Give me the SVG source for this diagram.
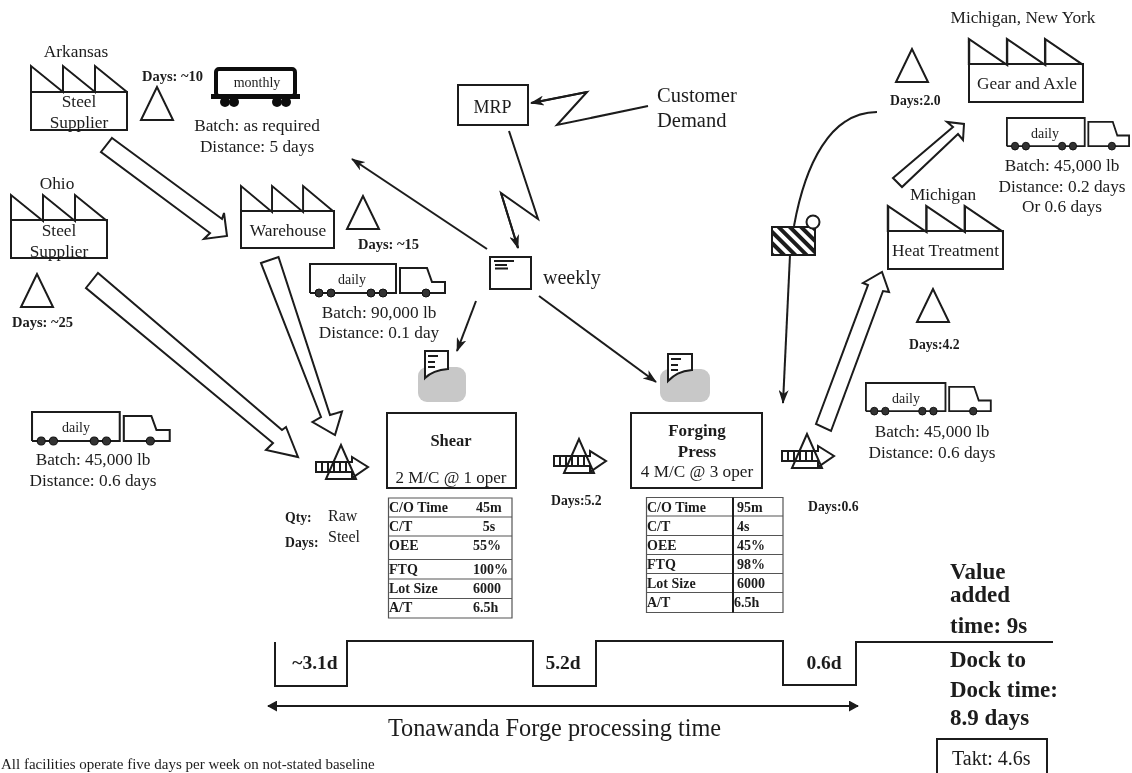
<svg xmlns="http://www.w3.org/2000/svg" width="1132" height="773" viewBox="0 0 1132 773">
<style>
text{font-family:"Liberation Serif","Times New Roman",serif;fill:#1c1c1c}
.t{font-size:17.300px}.m{text-anchor:middle}.b{font-weight:bold}
.d1{font-size:14.500px;font-weight:bold}.d2{font-size:13.700px;font-weight:bold}
.c{font-size:14px;font-weight:bold}
.v{font-size:23px;font-weight:bold}
.s{fill:none;stroke:#1a1a1a;stroke-width:2}
.w{fill:#fff;stroke:#1a1a1a;stroke-width:2}
.big{fill:#fff;stroke:#1a1a1a;stroke-width:2;stroke-linejoin:miter}
.a{fill:none;stroke:#1a1a1a;stroke-width:2;marker-end:url(#ah)}
.g{fill:none;stroke:#555;stroke-width:1.2}
</style>
<defs>
<filter id="soft" x="0" y="0" width="100%" height="100%"><feGaussianBlur stdDeviation="0.35"/></filter>
<marker id="ah" viewBox="0 0 14 10" refX="13" refY="5" markerWidth="14" markerHeight="10" markerUnits="userSpaceOnUse" orient="auto"><path d="M0,0L14,5L0,10L4,5Z" fill="#1a1a1a"/></marker>
<marker id="ahs" viewBox="0 0 12 12" refX="10" refY="6" markerWidth="11" markerHeight="11" markerUnits="userSpaceOnUse" orient="auto-start-reverse"><path d="M0,0L11,6L0,12Z" fill="#1a1a1a"/></marker>
<pattern id="hatch" width="8" height="8" patternUnits="userSpaceOnUse" patternTransform="rotate(45)"><rect width="8" height="8" fill="#fff"/><rect width="8" height="4" fill="#1a1a1a"/></pattern>
<g id="inv">
<path class="s" d="M0,-5H36V-10L52,0L36,11V5H0Z"/>
<path class="s" d="M6,-5V5M12,-5V5M18,-5V5M24,-5V5M30,-5V5"/>
<path class="s" d="M25,-22L10,12H40Z"/>
</g>
<g id="truck">
<path class="s" d="M1,29V0H87V29H1"/>
<path class="s" d="M91,4H118L123,18H136V29H91Z"/>
<g fill="#333" stroke="#111"><circle cx="10" cy="29" r="4"/><circle cx="22" cy="29" r="4"/><circle cx="62" cy="29" r="4"/><circle cx="74" cy="29" r="4"/><circle cx="117" cy="29" r="4"/></g>
</g>
<path id="tri" class="s" d="M16,0L0,33H32Z"/>
<path id="roof" class="s" d="M0,26V0L32,26V0L64,26V0L96,26"/>
</defs>
<rect width="1132" height="773" fill="#fff"/>
<g filter="url(#soft)">

<g id="connectors">
<path class="big" d="M112,138L222,219L224,213L227,236L204,239L210,233L101,152Z"/>
<path class="big" d="M98,273L282,430L286,427L298,457L266,450L273,443L86,288Z"/>
<path class="big" d="M261,263L278.500,257L330,415L342,411.500L335,435L312.500,422L321,417Z"/>
<path class="big" d="M893,178L953,127L947,122L964,124L963,140L958,134L902,187Z"/>
<path class="big" d="M816,424L868,285L863,283L882,272L889,292L883,291L831,431Z"/>
<path class="s" d="M648,106L557,125L587,92L532,103"/>
<path class="a" d="M587,92L531,103"/>
<path class="s" d="M509,131L538,219L501,193L518,248"/>
<path class="a" d="M501,193L518,248"/>
<path class="a" d="M487,249L352,159"/>
<path class="a" d="M476,301L457,351"/>
<path class="a" d="M539,296L656,382"/>
<path class="s" d="M877,112C830,112 805,165 794,226"/>
<path class="a" d="M790,255L783,403"/>
<path class="s" d="M275,642V686H347V641H533V686H596V641H783V685H856V642H1053"/>
<path class="s" marker-start="url(#ahs)" marker-end="url(#ahs)" d="M268,706H858"/>
</g>

<g id="arkansas-supplier"><use href="#roof" x="31" y="66"/><rect class="s" x="31" y="92" width="96" height="38"/>
<text class="t m" x="76" y="57">Arkansas</text><text class="t m" x="79" y="107">Steel</text><text class="t m" x="79" y="128">Supplier</text></g>
<g id="arkansas-inv"><use href="#tri" x="141" y="87"/><text class="d1" x="142" y="81">Days: ~10</text></g>
<g id="train">
<rect x="216" y="69" width="79" height="27" rx="3" fill="#fff" stroke="#111" stroke-width="4"/>
<rect x="211" y="94" width="89" height="5" fill="#111"/>
<g fill="#111"><circle cx="225" cy="102" r="5"/><circle cx="234" cy="102" r="5"/><circle cx="277" cy="102" r="5"/><circle cx="286" cy="102" r="5"/></g>
<text class="m" x="257" y="87" font-size="14">monthly</text>
<text class="t m" x="257" y="131">Batch: as required</text><text class="t m" x="257" y="152">Distance: 5 days</text></g>

<g id="ohio-supplier"><use href="#roof" x="11" y="195"/><rect class="s" x="11" y="220" width="96" height="38"/>
<text class="t m" x="57" y="189">Ohio</text><text class="t m" x="59" y="236">Steel</text><text class="t m" x="59" y="257">Supplier</text></g>
<g id="ohio-inv"><use href="#tri" x="21" y="274"/><text class="d1" x="12" y="327">Days: ~25</text></g>

<g id="warehouse"><use href="#roof" transform="translate(241,186) scale(.97,1)"/><rect class="s" x="241" y="211" width="93" height="37"/><text class="t m" x="288" y="236">Warehouse</text></g>
<g id="warehouse-inv"><use href="#tri" x="347" y="196"/><text class="d1" x="358" y="249">Days: ~15</text></g>

<g id="truck-1"><use href="#truck" x="309" y="264"/><text class="m" x="352" y="284" font-size="14">daily</text><text class="t m" x="379" y="318">Batch: 90,000 lb</text><text class="t m" x="379" y="338">Distance: 0.1 day</text></g>
<g id="truck-2"><use href="#truck" transform="translate(31,412) scale(1.02,1)"/><text class="m" x="76" y="432" font-size="14">daily</text><text class="t m" x="93" y="465">Batch: 45,000 lb</text><text class="t m" x="93" y="486">Distance: 0.6 days</text></g>
<g id="truck-3"><use href="#truck" transform="translate(1006,118) scale(.905,.97)"/><text class="m" x="1045" y="138" font-size="14">daily</text><text class="t m" x="1062" y="171">Batch: 45,000 lb</text><text class="t m" x="1062" y="192">Distance: 0.2 days</text><text class="t m" x="1062" y="212">Or 0.6 days</text></g>
<g id="truck-4"><use href="#truck" transform="translate(865,383) scale(.925,.97)"/><text class="m" x="906" y="403" font-size="14">daily</text><text class="t m" x="932" y="437">Batch: 45,000 lb</text><text class="t m" x="932" y="458">Distance: 0.6 days</text></g>

<g id="mrp"><rect class="s" x="458" y="85" width="70" height="40"/><text class="m" x="492.500" y="113" font-size="18">MRP</text></g>
<g id="customer"><text x="657" y="102" font-size="20.500">Customer</text><text x="657" y="127" font-size="20.500">Demand</text></g>
<g id="weekly"><rect class="s" x="490" y="257" width="41" height="32"/><path class="s" stroke-width="1.500" d="M494,261H514M495,265H507M495,268.500H508"/><text x="543" y="284" font-size="20">weekly</text></g>

<g id="shear-doc"><rect x="418" y="367" width="48" height="35" rx="9" fill="#c8c8c8"/><path class="w" d="M425,351H448V369C436,370 430,373 425,378Z"/><path class="s" stroke-width="1.500" d="M428,356H438M428,362H435M428,367H435"/></g>
<g id="forging-doc"><rect x="660" y="369" width="50" height="33" rx="9" fill="#c8c8c8"/><path class="w" d="M668,354H692V370C680,371 674,375 668,381Z"/><path class="s" stroke-width="1.500" d="M671,359H681M671,365H678M671,370H678"/></g>

<g id="inv-raw"><use href="#inv" x="316" y="467"/></g>
<g id="inv-shear"><use href="#inv" x="554" y="461"/><text class="d2" x="551" y="505">Days:5.2</text></g>
<g id="inv-forge"><use href="#inv" x="782" y="456"/><text class="d2" x="808" y="511">Days:0.6</text></g>
<g id="raw-label"><text class="d2" x="285" y="522">Qty:</text><text class="d2" x="285" y="547">Days:</text><text x="328" y="521" font-size="16">Raw</text><text x="328" y="542" font-size="16">Steel</text></g>

<g id="shear"><rect class="s" x="387" y="413" width="129" height="75"/><text class="m b" x="451" y="446" font-size="16.500">Shear</text><text class="m" x="451" y="483" font-size="17">2 M/C @ 1 oper</text></g>
<g id="shear-table">
<path class="g" d="M388.500,498H512V618H388.500ZM388.500,517H512M388.500,536H512M388.500,559.500H512M388.500,579H512M388.500,598.500H512"/>
<text class="c" x="389" y="512">C/O Time</text><text class="c" x="476" y="512">45m</text>
<text class="c" x="389" y="531">C/T</text><text class="c m" x="489" y="531">5s</text>
<text class="c" x="389" y="550">OEE</text><text class="c" x="473" y="550">55%</text>
<text class="c" x="389" y="574">FTQ</text><text class="c" x="473" y="574">100%</text>
<text class="c" x="389" y="593">Lot Size</text><text class="c" x="473" y="593">6000</text>
<text class="c" x="389" y="612">A/T</text><text class="c" x="473" y="612">6.5h</text>
</g>

<g id="forging"><rect class="s" x="631" y="413" width="131" height="75"/><text class="m b" x="697" y="436" font-size="17">Forging</text><text class="m b" x="697" y="457" font-size="17">Press</text><text class="m" x="697" y="477" font-size="17.200">4 M/C @ 3 oper</text></g>
<g id="forging-table">
<path class="g" d="M646.500,497.500H783V612.500H646.500ZM646.500,516H783M646.500,535.500H783M646.500,554.500H783M646.500,573.500H783M646.500,592.500H783"/>
<path class="s" stroke-width="1.500" d="M733,497.500V612.500"/>
<text class="c" x="647" y="512">C/O Time</text><text class="c" x="737" y="512">95m</text>
<text class="c" x="647" y="531">C/T</text><text class="c" x="737" y="531">4s</text>
<text class="c" x="647" y="550">OEE</text><text class="c" x="737" y="550">45%</text>
<text class="c" x="647" y="569">FTQ</text><text class="c" x="737" y="569">98%</text>
<text class="c" x="647" y="588">Lot Size</text><text class="c" x="737" y="588">6000</text>
<text class="c" x="647" y="607">A/T</text><text class="c" x="734" y="607">6.5h</text>
</g>

<g id="gear-axle"><use href="#roof" transform="translate(969,39) scale(1.19,1)"/><rect class="s" x="969" y="64" width="114" height="38"/><text class="t m" x="1023" y="23">Michigan, New York</text><text class="t m" x="1027" y="89">Gear and Axle</text></g>
<g id="gear-inv"><use href="#tri" x="896" y="49"/><text class="d2" x="890" y="105">Days:2.0</text></g>
<g id="heat"><use href="#roof" transform="translate(888,206) scale(1.2,1)"/><rect class="s" x="888" y="231" width="115" height="38"/><text class="t m" x="943" y="200">Michigan</text><text class="t m" x="945.500" y="256">Heat Treatment</text></g>
<g id="heat-inv"><use href="#tri" x="917" y="289"/><text class="d2" x="909" y="349">Days:4.2</text></g>

<g id="kanban"><rect x="772" y="227" width="43" height="28" fill="url(#hatch)" stroke="#1a1a1a" stroke-width="2"/><circle class="w" cx="813" cy="222" r="6.500"/></g>

<g id="timeline-labels"><text class="m b" x="315" y="669" font-size="19.500">~3.1d</text><text class="m b" x="563" y="669" font-size="19.500">5.2d</text><text class="m b" x="824" y="669" font-size="19.500">0.6d</text>
<text class="m" x="554.500" y="736" font-size="24.300">Tonawanda Forge processing time</text></g>

<g id="summary"><text class="v" x="950" y="579">Value</text><text class="v" x="950" y="602">added</text><text class="v" x="950" y="633">time: 9s</text><text class="v" x="950" y="667">Dock to</text><text class="v" x="950" y="697">Dock time:</text><text class="v" x="950" y="725">8.9 days</text></g>
<g id="takt"><path class="s" d="M937,775V739H1047V775"/><text x="952" y="765" font-size="20">Takt: 4.6s</text></g>
<text id="note" x="1" y="769" font-size="15">All facilities operate five days per week on not-stated baseline</text>
</g>
</svg>
